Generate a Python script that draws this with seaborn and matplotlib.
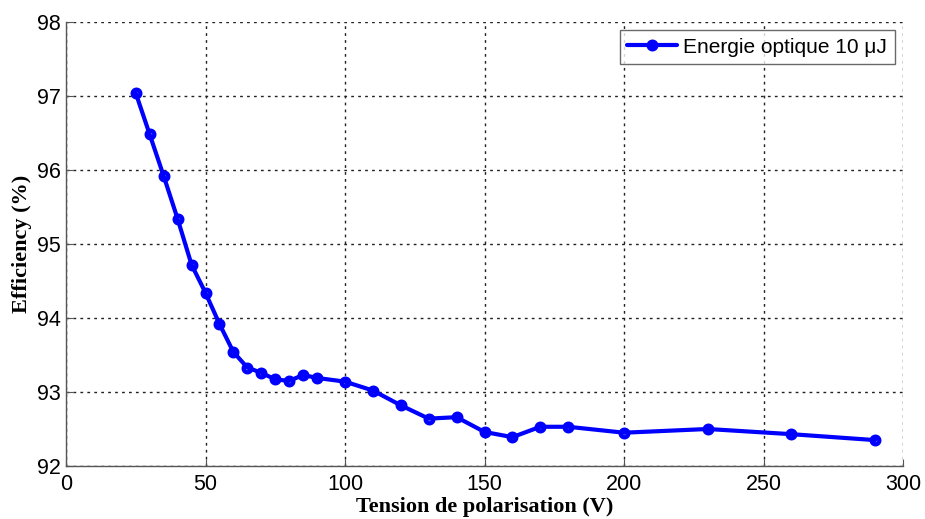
import matplotlib
matplotlib.use("Agg")
import matplotlib.pyplot as plt
import seaborn as sns
import pandas as pd

# Bias voltage (V) and measured efficiency (%)
tension = [25, 30, 35, 40, 45, 50, 55, 60, 65, 70, 75, 80, 85, 90, 100, 110,
           120, 130, 140, 150, 160, 170, 180, 200, 230, 260, 290]
efficiency = [97.04, 96.48, 95.92, 95.34, 94.72, 94.34, 93.92, 93.54, 93.33,
              93.26, 93.17, 93.15, 93.23, 93.19, 93.14, 93.02, 92.82, 92.64,
              92.66, 92.46, 92.39, 92.53, 92.53, 92.45, 92.50, 92.43, 92.35]
series_label = "Energie optique 10 \u03bcJ"

x_ticks = [0, 50, 100, 150, 200, 250, 300]
y_ticks = [92, 93, 94, 95, 96, 97, 98]

df = pd.DataFrame({"Tension": tension, "Efficiency": efficiency})

sns.set_theme(style="white")
plt.rcParams["font.family"] = ["Liberation Sans", "DejaVu Sans"]
plt.rcParams["text.color"] = "black"
plt.rcParams["axes.labelcolor"] = "black"
plt.rcParams["xtick.labelcolor"] = "black"
plt.rcParams["ytick.labelcolor"] = "black"

fig = plt.figure(figsize=(9.25, 5.19), dpi=100)
ax = fig.add_axes([66 / 925, 1 - 466 / 519, (903 - 66) / 925, (466 - 22) / 519])

sns.lineplot(data=df, x="Tension", y="Efficiency", ax=ax, color="#0000ff",
             linewidth=3.0, marker="o", markersize=5.5, markerfacecolor="none",
             markeredgecolor="#0000ff", markeredgewidth=3.1, label=series_label)

ax.set_xlim(0, 300)
ax.set_ylim(92, 98)
ax.set_xticks(x_ticks)
ax.set_yticks(y_ticks)
ax.tick_params(axis="both", which="major", labelsize=15.5, direction="in",
               length=5, width=0.8, color="#555555", left=True, bottom=True,
               pad=4)
ax.tick_params(axis="x", pad=6)

ax.grid(True, linestyle=(0, (2, 3)), color="#222222", linewidth=1.0)
for side in ["top", "right"]:
    ax.spines[side].set_visible(False)
for side in ["left", "bottom"]:
    ax.spines[side].set_color("#555555")
    ax.spines[side].set_linewidth(1.0)

ax.set_xlabel("Tension de polarisation (V)", fontfamily="Liberation Serif",
              fontweight="bold", fontsize=16, labelpad=1)
ax.set_ylabel("Efficiency (%)", fontfamily="Liberation Serif",
              fontweight="bold", fontsize=16, labelpad=3)

leg = ax.legend(loc="upper right", fontsize=15, frameon=True, fancybox=False,
                borderpad=0.35, handlelength=2.4, handletextpad=0.3,
                borderaxespad=0.4)
leg.get_frame().set_edgecolor("#444444")
leg.get_frame().set_linewidth(1.0)
for h in leg.legend_handles:
    h.set_markerfacecolor("#0000ff")

fig.savefig("out.png", dpi=100)
